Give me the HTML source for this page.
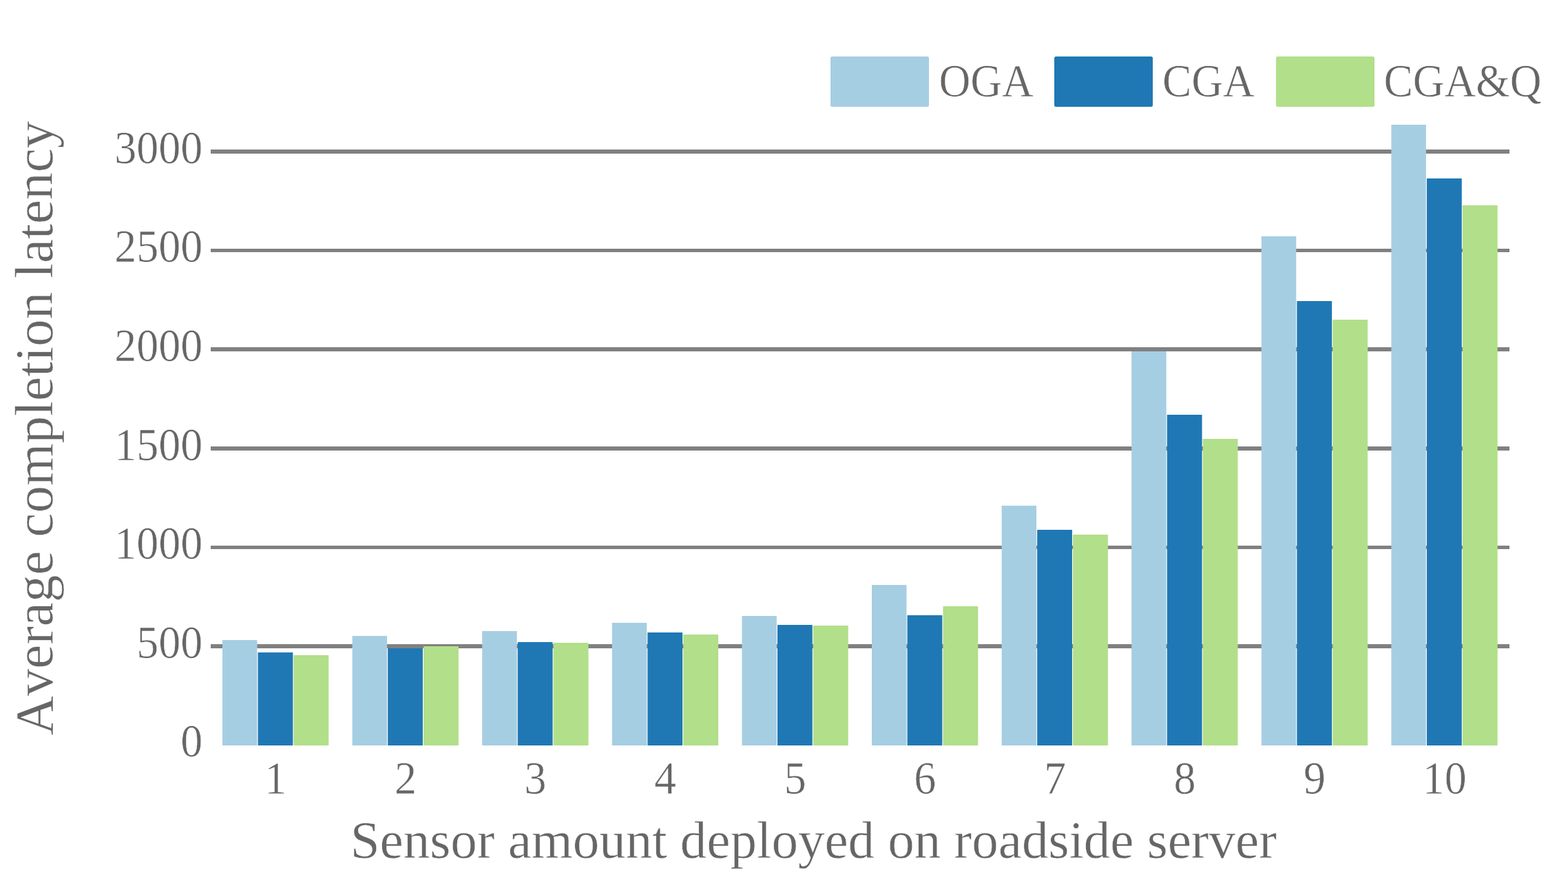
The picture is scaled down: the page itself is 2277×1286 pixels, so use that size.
<!DOCTYPE html>
<html lang="en">
<head>
<meta charset="utf-8">
<title>Average completion latency</title>
<style>
html,body{margin:0;padding:0;background:#fff;}
body{width:2277px;height:1286px;overflow:hidden;}
svg{display:block;}
text{font-family:"Liberation Serif",serif;fill:#666666;font-kerning:none;stroke:#ffffff;stroke-width:0.5px;paint-order:fill stroke;}
.tick{font-size:64px;}
.leg{font-size:63.4px;}
.xt{font-size:77.0px;}
.yt{font-size:79.1px;}
</style>
</head>
<body>
<svg width="2277" height="1286" viewBox="0 0 2277 1286">
<rect x="0" y="0" width="2277" height="1286" fill="#ffffff"/>

<g fill="#808080">
<rect x="306" y="217" width="1886" height="6"/>
<rect x="306" y="361" width="1886" height="5"/>
<rect x="306" y="504" width="1886" height="6"/>
<rect x="306" y="648" width="1886" height="6"/>
<rect x="306" y="792" width="1886" height="5"/>
<rect x="306" y="935" width="1886" height="6"/>
</g>
<g fill="#a6cee3">
<rect x="323.00" y="929" width="50.45" height="153" rx="0.6" ry="0.6"/>
<rect x="511.60" y="923" width="50.45" height="159" rx="0.6" ry="0.6"/>
<rect x="700.20" y="916" width="50.45" height="166" rx="0.6" ry="0.6"/>
<rect x="888.80" y="904" width="50.45" height="178" rx="0.6" ry="0.6"/>
<rect x="1077.40" y="894" width="50.45" height="188" rx="0.6" ry="0.6"/>
<rect x="1266.00" y="849" width="50.45" height="233" rx="0.6" ry="0.6"/>
<rect x="1454.60" y="734" width="50.45" height="348" rx="0.6" ry="0.6"/>
<rect x="1643.20" y="510" width="50.45" height="572" rx="0.6" ry="0.6"/>
<rect x="1831.80" y="343" width="50.45" height="739" rx="0.6" ry="0.6"/>
<rect x="2020.40" y="181" width="50.45" height="901" rx="0.6" ry="0.6"/>
</g>
<g fill="#1f78b4">
<rect x="374.55" y="947" width="50.80" height="135" rx="0.6" ry="0.6"/>
<rect x="563.15" y="941" width="50.80" height="141" rx="0.6" ry="0.6"/>
<rect x="751.75" y="932" width="50.80" height="150" rx="0.6" ry="0.6"/>
<rect x="940.35" y="918" width="50.80" height="164" rx="0.6" ry="0.6"/>
<rect x="1128.95" y="907" width="50.80" height="175" rx="0.6" ry="0.6"/>
<rect x="1317.55" y="893" width="50.80" height="189" rx="0.6" ry="0.6"/>
<rect x="1506.15" y="769" width="50.80" height="313" rx="0.6" ry="0.6"/>
<rect x="1694.75" y="602" width="50.80" height="480" rx="0.6" ry="0.6"/>
<rect x="1883.35" y="437" width="50.80" height="645" rx="0.6" ry="0.6"/>
<rect x="2071.95" y="259" width="50.80" height="823" rx="0.6" ry="0.6"/>
</g>
<g fill="#b2df8a">
<rect x="426.45" y="951" width="50.85" height="131" rx="0.6" ry="0.6"/>
<rect x="615.05" y="938" width="50.85" height="144" rx="0.6" ry="0.6"/>
<rect x="803.65" y="933" width="50.85" height="149" rx="0.6" ry="0.6"/>
<rect x="992.25" y="921" width="50.85" height="161" rx="0.6" ry="0.6"/>
<rect x="1180.85" y="908" width="50.85" height="174" rx="0.6" ry="0.6"/>
<rect x="1369.45" y="880" width="50.85" height="202" rx="0.6" ry="0.6"/>
<rect x="1558.05" y="776" width="50.85" height="306" rx="0.6" ry="0.6"/>
<rect x="1746.65" y="637" width="50.85" height="445" rx="0.6" ry="0.6"/>
<rect x="1935.25" y="464" width="50.85" height="618" rx="0.6" ry="0.6"/>
<rect x="2123.85" y="298" width="50.85" height="784" rx="0.6" ry="0.6"/>
</g>
<g class="tick" text-anchor="end">
<text transform="translate(294.2 1098) scale(1 1.05)">0</text>
<text transform="translate(294.2 955) scale(1 1.05)">500</text>
<text transform="translate(294.2 811) scale(1 1.05)">1000</text>
<text transform="translate(294.2 668) scale(1 1.05)">1500</text>
<text transform="translate(294.2 524) scale(1 1.05)">2000</text>
<text transform="translate(294.2 380) scale(1 1.05)">2500</text>
<text transform="translate(294.2 237) scale(1 1.05)">3000</text>
</g>
<g class="tick" text-anchor="middle">
<text transform="translate(400.30 1152) scale(1 1.05)">1</text>
<text transform="translate(588.90 1152) scale(1 1.05)">2</text>
<text transform="translate(777.50 1152) scale(1 1.05)">3</text>
<text transform="translate(966.10 1152) scale(1 1.05)">4</text>
<text transform="translate(1154.70 1152) scale(1 1.05)">5</text>
<text transform="translate(1343.30 1152) scale(1 1.05)">6</text>
<text transform="translate(1531.90 1152) scale(1 1.05)">7</text>
<text transform="translate(1720.50 1152) scale(1 1.05)">8</text>
<text transform="translate(1909.10 1152) scale(1 1.05)">9</text>
<text transform="translate(2097.70 1152) scale(1 1.05)">10</text>
</g>
<rect x="1206" y="82" width="143" height="73" rx="2.5" ry="2.5" fill="#a6cee3"/>
<text class="leg" transform="translate(1363.5 140) scale(1 1.05)">OGA</text>
<rect x="1531" y="82" width="143" height="73" rx="2.5" ry="2.5" fill="#1f78b4"/>
<text class="leg" transform="translate(1688 140) scale(1 1.05)">CGA</text>
<rect x="1853" y="82" width="143" height="73" rx="2.5" ry="2.5" fill="#b2df8a"/>
<text class="leg" transform="translate(2009.5 140) scale(1 1.05)">CGA&amp;Q</text>
<text class="xt" x="1181.3" y="1244.7" text-anchor="middle">Sensor amount deployed on roadside server</text>
<text class="yt" transform="translate(76 621.5) rotate(-90)" text-anchor="middle">Average completion latency</text>
</svg>
</body>
</html>
